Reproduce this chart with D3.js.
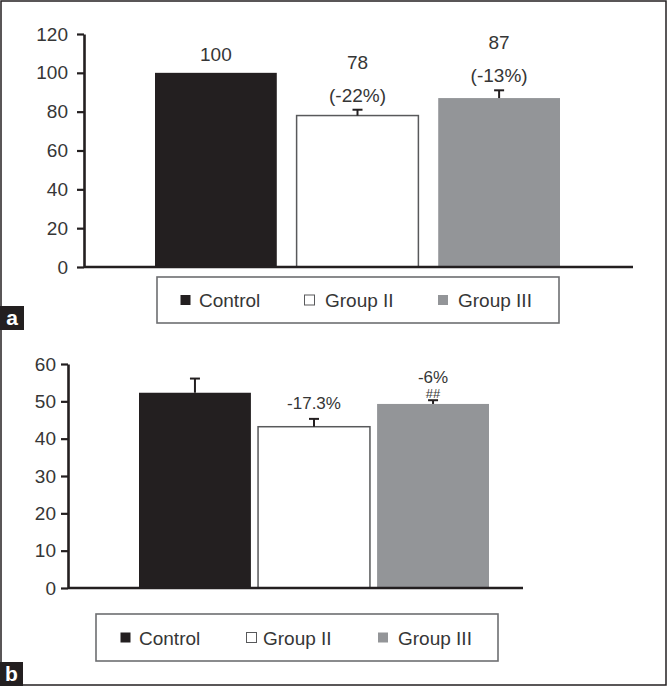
<!DOCTYPE html>
<html><head><meta charset="utf-8">
<script src="https://cdn.jsdelivr.net/npm/d3@7"></script>
<style>
html,body{margin:0;padding:0;background:#fff;}
svg{display:block;}
text{font-family:"Liberation Sans",Arial,sans-serif;}
</style></head>
<body>
<svg id="chart" width="667" height="686"></svg>
<script>
// ---- data ----
const categories = ["Control", "Group II", "Group III"];
const legendLabels = ["Control", "Group II", "Group III"];
// panel a
const valuesA = [100, 78, 87];
const errorsA = [0, 3, 4];
const valueLabelsA = ["100", "78", "87"];
const changeLabelsA = ["", "(-22%)", "(-13%)"];
const ticksA = [0, 20, 40, 60, 80, 100, 120];
// panel b
const valuesB = [52.3, 43.2, 49.3];
const errorsB = [3.8, 2.1, 1.0];
const changeLabelsB = ["", "-17.3%", "-6%"];
const markLabelsB = ["", "", "##"];
const ticksB = [0, 10, 20, 30, 40, 50, 60];

// ---- styles ----
const ink = "#231f20";
const textCol = "#363636";
const fills = ["#231f20", "#ffffff", "#939598"];
const strokes = ["none", "#58595b", "none"];

const svg = d3.select("#chart");

// outer frame
svg.append("rect").attr("x", 1).attr("y", 1).attr("width", 665).attr("height", 684)
  .attr("fill", "none").attr("stroke", ink).attr("stroke-width", 1.5);

function panel(cfg) {
  const g = svg.append("g");
  const y = d3.scaleLinear().domain([0, cfg.ticks[cfg.ticks.length - 1]]).range([cfg.y0, cfg.y1]);
  const x = d3.scaleBand().domain(categories).range(cfg.xRange).paddingInner(cfg.pad).paddingOuter(0);

  // bars
  g.selectAll("rect.bar").data(categories).join("rect")
    .attr("class", "bar")
    .attr("x", (d) => x(d))
    .attr("width", x.bandwidth())
    .attr("y", (d, i) => y(cfg.values[i]))
    .attr("height", (d, i) => y(0) - y(cfg.values[i]))
    .attr("fill", (d, i) => fills[i])
    .attr("stroke", (d, i) => strokes[i])
    .attr("stroke-width", 1.5);

  // error bars
  const eb = categories.map((c, i) => ({c, v: cfg.values[i], e: cfg.errors[i]})).filter(d => d.e > 0);
  g.selectAll("line.err").data(eb).join("line")
    .attr("x1", d => x(d.c) + x.bandwidth() / 2).attr("x2", d => x(d.c) + x.bandwidth() / 2)
    .attr("y1", d => y(d.v)).attr("y2", d => y(d.v + d.e))
    .attr("stroke", ink).attr("stroke-width", 2);
  g.selectAll("line.cap").data(eb).join("line")
    .attr("x1", d => x(d.c) + x.bandwidth() / 2 - 5).attr("x2", d => x(d.c) + x.bandwidth() / 2 + 5)
    .attr("y1", d => y(d.v + d.e)).attr("y2", d => y(d.v + d.e))
    .attr("stroke", ink).attr("stroke-width", 2);

  // y axis
  const ax = g.append("g").attr("transform", `translate(${cfg.axisX},0)`)
    .call(d3.axisLeft(y).tickValues(cfg.ticks).tickSize(7).tickSizeOuter(0).tickPadding(cfg.tickPad));
  ax.select(".domain").attr("stroke", ink).attr("stroke-width", 2.6);
  ax.selectAll(".tick line").attr("stroke", ink).attr("stroke-width", 2.2);
  ax.selectAll(".tick text").attr("fill", textCol).attr("font-size", 19)
    .attr("font-family", "Liberation Sans, Arial, sans-serif");

  // x baseline
  g.append("line").attr("x1", cfg.axisX).attr("x2", cfg.xEnd)
    .attr("y1", y(0)).attr("y2", y(0)).attr("stroke", ink).attr("stroke-width", 2.4);

  return {g, x, y};
}

// ---- panel a ----
const A = panel({values: valuesA, errors: errorsA, ticks: ticksA, y0: 267, y1: 34,
  xRange: [155, 560], pad: 0.14, axisX: 84, xEnd: 633, tickPad: 9});
A.g.selectAll("text.val").data(categories).join("text")
  .attr("x", d => A.x(d) + A.x.bandwidth() / 2)
  .attr("y", (d, i) => changeLabelsA[i] ? A.y(valuesA[i] + errorsA[i]) - 41 : A.y(valuesA[i]) - 12)
  .attr("text-anchor", "middle").attr("font-size", 19).attr("fill", textCol)
  .text((d, i) => valueLabelsA[i]);
A.g.selectAll("text.chg").data(categories).join("text")
  .attr("x", d => A.x(d) + A.x.bandwidth() / 2)
  .attr("y", (d, i) => A.y(valuesA[i] + errorsA[i]) - 8)
  .attr("text-anchor", "middle").attr("font-size", 19).attr("fill", textCol)
  .text((d, i) => changeLabelsA[i]);

// ---- panel b ----
const B = panel({values: valuesB, errors: errorsB, ticks: ticksB, y0: 588, y1: 364,
  xRange: [139, 489], pad: 0.06, axisX: 68, xEnd: 523, tickPad: 5});
B.g.selectAll("text.chg").data(categories).join("text")
  .attr("x", d => B.x(d) + B.x.bandwidth() / 2)
  .attr("y", (d, i) => markLabelsB[i] ? B.y(valuesB[i] + errorsB[i]) - 17 : B.y(valuesB[i] + errorsB[i]) - 10)
  .attr("text-anchor", "middle").attr("font-size", 17).attr("fill", textCol)
  .text((d, i) => changeLabelsB[i]);
B.g.selectAll("text.mk").data(categories).join("text")
  .attr("x", d => B.x(d) + B.x.bandwidth() / 2)
  .attr("y", (d, i) => B.y(valuesB[i] + errorsB[i]) - 2)
  .attr("text-anchor", "middle").attr("font-size", 13).attr("fill", textCol)
  .text((d, i) => markLabelsB[i]);

// ---- legends ----
function legend(bx, by, bw, bh, sqX, txX) {
  const lg = svg.append("g");
  lg.append("rect").attr("x", bx).attr("y", by).attr("width", bw).attr("height", bh)
    .attr("fill", "#fff").attr("stroke", "#6d6e71").attr("stroke-width", 1.6);
  const cy = by + bh / 2;
  legendLabels.forEach((l, i) => {
    lg.append("rect").attr("x", sqX[i]).attr("y", cy - 5).attr("width", 10).attr("height", 10)
      .attr("fill", fills[i]).attr("stroke", i === 1 ? "#58595b" : "none").attr("stroke-width", 1);
    lg.append("text").attr("x", txX[i]).attr("y", cy + 7).attr("font-size", 19)
      .attr("fill", textCol).text(l);
  });
}
legend(157, 277, 402, 46, [180.5, 304.5, 438], [199, 325, 458]);
legend(96, 614, 402, 47, [120.5, 246.5, 378], [139, 263, 398]);

// ---- panel tags ----
function tag(x, y, w, h, s) {
  svg.append("rect").attr("x", x).attr("y", y).attr("width", w).attr("height", h).attr("fill", ink);
  svg.append("text").attr("x", x + w / 2).attr("y", y + h - 5).attr("text-anchor", "middle")
    .attr("font-size", 21).attr("font-weight", "bold").attr("fill", "#fff").text(s);
}
tag(0, 306, 24, 24, "a");
tag(0, 662, 23, 24, "b");
</script>
</body></html>
